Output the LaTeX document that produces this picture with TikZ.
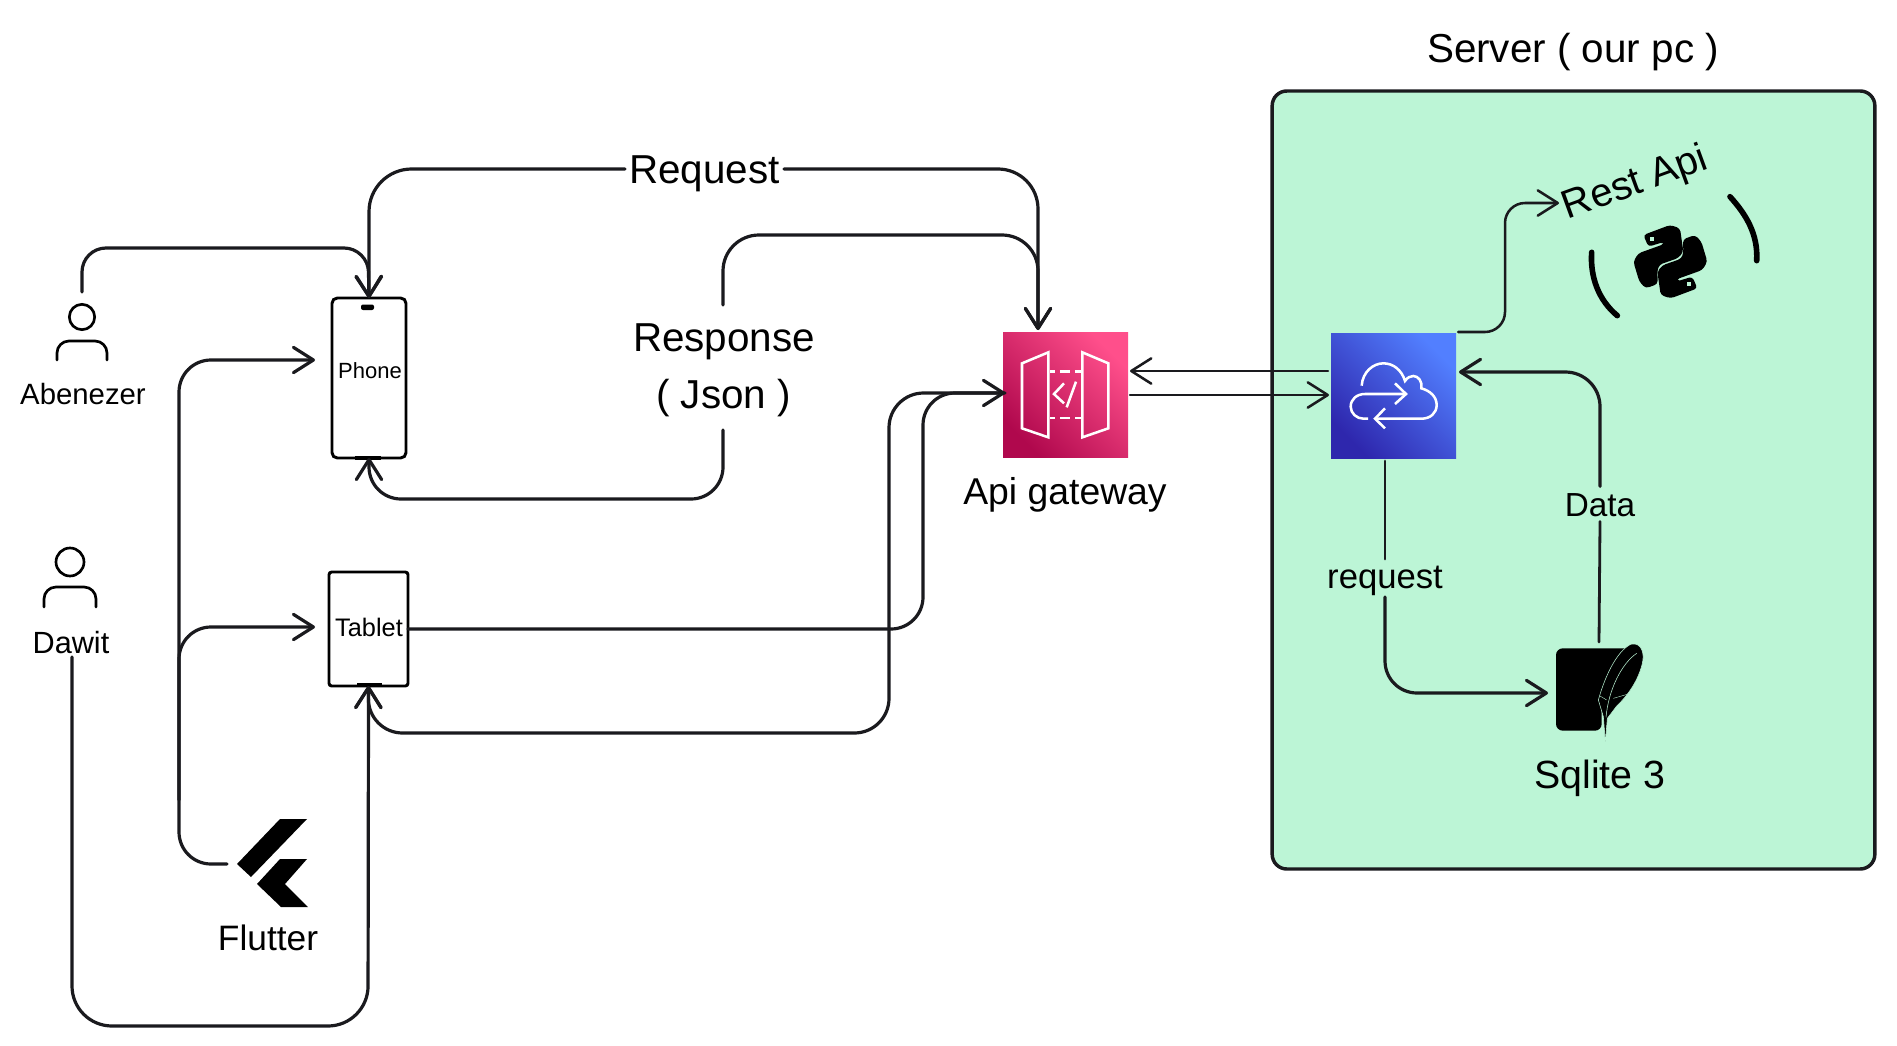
\documentclass[tikz,border=0pt]{standalone}
\usepackage{fontspec}
\setmainfont{Liberation Sans}
\usetikzlibrary{arrows.meta}
\definecolor{servergreen}{HTML}{BCF5D6}
\definecolor{ink}{HTML}{1A1A1E}
\definecolor{gwA}{HTML}{B0084D}
\definecolor{gwB}{HTML}{FF4F8B}
\definecolor{clA}{HTML}{2E27AD}
\definecolor{clB}{HTML}{527FFF}
\tikzset{
  barb/.tip={Straight Barb[length=15pt,width=19pt,round]},
  conn/.style={draw=ink,line width=2.4pt,line cap=round,line join=round,-barb},
  thinconn/.style={conn,line width=1.9pt},
  plain/.style={draw=ink,line width=2.1pt,line cap=round,line join=round},
  lab/.style={anchor=base,inner sep=0pt,text=black},
  device/.style={draw=black,line width=2.2pt,rounded corners=4pt,inner sep=0pt,outer sep=0pt,fill=white},
  awsbox/.style={inner sep=0pt,outer sep=0pt,minimum size=93.75pt},
  iconline/.style={draw=white,line width=1.9pt,line join=miter},
  person/.style={draw=black,line width=2pt,line cap=round},
  fs/.style={font=\fontsize{#1}{#1}\selectfont}
}
\begin{document}
\begin{tikzpicture}[x=0.75pt,y=-0.75pt]
\useasboundingbox (0,0) rectangle (1897,1045);
\fill[white] (0,0) rectangle (1897,1045);

% server panel
\node[draw=ink,line width=2.6pt,fill=servergreen,rounded corners=11pt,inner sep=0pt,outer sep=0pt,minimum width=452pt,minimum height=583.5pt] (server) at (1573.5,480) {};
\node[lab,fs=30.3] (servertitle) at (1573,63) {Server ( our pc )};

% people
\node[circle,draw=black,line width=2pt,minimum size=19pt,inner sep=0pt] (abeHead) at (82,317) {};
\draw[person,rounded corners=9pt] (57,360) -- (57,341) -- (107,341) -- (107,360);
\node[lab,fs=22] (abe) at (83,404) {Abenezer};
\coordinate (abeTop) at (82,292);
\node[circle,draw=black,line width=2pt,minimum size=21pt,inner sep=0pt] (dawHead) at (70,562) {};
\draw[person,rounded corners=9pt] (44,607) -- (44,587) -- (96,587) -- (96,607);
\node[lab,fs=23] (daw) at (71,653) {Dawit};
\coordinate (dawBottom) at (72,657);

% devices
\node[device,minimum width=55.5pt,minimum height=120pt] (phone) at (369,378) {};
\fill[black,rounded corners=1.5pt] (361,304.5) rectangle (374,310);
\fill[black] (355,456) rectangle (381,460);
\node[lab,fs=16.5] (phonetext) at (370,378) {Phone};
\node[device,rounded corners=2pt,minimum width=59.25pt,minimum height=85.5pt] (tablet) at (368.5,629) {};
\fill[black] (357,683) rectangle (382,687);
\node[lab,fs=19] (tablettext) at (369,636) {Tablet};

% flutter
\fill[black] (280,819) -- (307,819) -- (251,877) -- (237,864) -- cycle;
\fill[black] (280,859) -- (307,859) -- (285,884) -- (308,907) -- (281,907) -- (257,884) -- cycle;
\coordinate (flutterW) at (227,864);
\node[lab,fs=26.5] (flutter) at (268,950) {Flutter};

% API gateway
\node[awsbox,bottom color=gwA,top color=gwB,shading angle=-45] (gateway) at (1065.5,394.5) {};
\begin{scope}[shift={(960,300)},x=0.25pt,y=-0.25pt]
  \draw[iconline] (186,190) -- (265,157) -- (265,412) -- (186,385) -- cycle;
  \draw[iconline] (367,157) -- (445,190) -- (445,385) -- (367,412) -- cycle;
  \foreach \yy in {214,354}{
    \draw[iconline] (270,\yy) -- (285,\yy) (300,\yy) -- (330,\yy) (345,\yy) -- (362,\yy);
  }
  \draw[iconline] (312,250) -- (282,282) -- (312,310);
  \draw[iconline] (348,245) -- (320,322);
\end{scope}
\node[lab,fs=28] (gatewaytext) at (1065,504) {Api gateway};

% cloud service
\node[awsbox,bottom color=clA,top color=clB,shading angle=-45] (cloud) at (1393.5,395.5) {};
\begin{scope}[shift={(960,300)},x=0.25pt,y=-0.25pt]
  \draw[iconline] (1205,257) .. controls (1208,215) and (1240,190) .. (1270,190)
     .. controls (1300,190) and (1325,210) .. (1335,243)
     .. controls (1342,232) and (1352,228) .. (1360,228)
     .. controls (1375,228) and (1388,245) .. (1384,265)
     .. controls (1410,272) and (1430,290) .. (1430,315)
     .. controls (1430,340) and (1410,356) .. (1385,356) -- (1245,356);
  \draw[iconline] (1275,325) -- (1245,356) -- (1275,385);
  \draw[iconline] (1224,356) -- (1210,356) .. controls (1190,356) and (1172,340) .. (1172,320)
     .. controls (1172,298) and (1190,282) .. (1215,282) -- (1338,282);
  \draw[iconline] (1305,250) -- (1338,282) -- (1305,312);
\end{scope}

% python
\begin{scope}[shift={(1500,120)},x=0.25pt,y=-0.25pt]
  \foreach \ang in {0,180}{
    \begin{scope}[rotate around={\ang:(511,425)}]
      \fill[black,rounded corners=2.5pt] (430,345) -- (510,315) -- (540,325) -- (550,395) -- (535,414) -- (478,434) -- (472,452) -- (473,492) -- (437,505) -- (418,485) -- (400,425) -- (415,400) -- (493,372) -- (491,366) -- (445,380) -- cycle;
      \fill[servergreen] (449,352) rectangle (461,364);
    \end{scope}
  }
  \draw[black,line width=4.2pt,line cap=round] (275,397) .. controls (270,470) and (295,540) .. (352,587);
  \draw[black,line width=4.2pt,line cap=round] (690,230) .. controls (735,280) and (775,340) .. (770,422);
\end{scope}
\node[lab,fs=30,rotate=20] (restapi) at (1639,194) {Rest Api};
\coordinate (restW) at (1559,203);

% sqlite
\begin{scope}[shift={(1500,620)},x=0.25pt,y=-0.25pt]
  \fill[black,rounded corners=5pt] (168,85) -- (395,85) -- (305,240) -- (305,332) -- (168,332) -- cycle;
  \fill[black,draw=servergreen,line width=0.4pt] (316,365) -- (310,290) -- (295,240)
     .. controls (320,150) and (360,85) .. (395,72)
     .. controls (425,68) and (434,100) .. (427,130)
     .. controls (415,180) and (385,225) .. (350,258)
     -- (322,295) -- cycle;
  \draw[servergreen,line width=0.4pt] (318,292) .. controls (325,210) and (365,130) .. (410,100);
  \draw[servergreen,line width=0.3pt] (300,228) -- (320,240) (340,235) -- (385,222);
\end{scope}
\node[lab,fs=29.5] (sqlite) at (1600,788) {Sqlite 3};
\coordinate (sqliteW) at (1548,693);
\coordinate (sqliteN) at (1599,642);

% connector ends
\coordinate (gwTop) at (1038,330);
\coordinate (gwW) at (1005,393);
\coordinate (gwE1) at (1130,371);
\coordinate (gwE2) at (1130,395);
\coordinate (clW1) at (1328,371);
\coordinate (clW2) at (1329,395);
\coordinate (clE1) at (1458,332);
\coordinate (clE2) at (1459,372);
\coordinate (clS) at (1385,461);

% labels that interrupt connectors
\node[fill=white,inner sep=3pt,fs=30.3,text height=24.5pt,text depth=3.5pt] (request) at (704.5,169) {Request};
\node[lab,fs=30.3] (response) at (724,351) {Response};
\node[lab,fs=30.3] (json) at (723.5,408) {( Json )};
\coordinate (respTop) at (723,305);
\coordinate (respBot) at (723,430);
\node[fill=servergreen,inner sep=2pt,fs=26,text height=20pt,text depth=4pt] (reqlabel) at (1385,578) {request};
\node[fill=servergreen,inner sep=2pt,fs=25,text height=20pt,text depth=2pt] (data) at (1600,504) {Data};

% connectors
\draw[conn,rounded corners=18pt] (abeTop) -- (82,248) -- (368,248) -- (phone.north);
\draw[conn,rounded corners=32pt] (request.west) -- (369,169) -- (phone.north);
\draw[conn,rounded corners=30pt] (request.east) -- (1038,169) -- (gwTop);
\draw[conn,rounded corners=27pt] (respTop) -- (723,235) -- (1038,235) -- (gwTop);
\draw[conn,rounded corners=24pt] (respBot) -- (723,499) -- (369,499) -- (phone.south);
\draw[conn,rounded corners=24pt] (flutterW) -- (179,864) -- (179,360) -- (315,360);
\draw[conn,rounded corners=24pt] (179,800) -- (179,627) -- (315,627);
\draw[conn,rounded corners=30pt] (dawBottom) -- (72,1026) -- (368,1026) -- (tablet.south);
\draw[conn,rounded corners=24pt] (tablet.east) -- (923,629) -- (923,393) -- (gwW);
\draw[conn,rounded corners=26pt] (gwW) -- (889,393) -- (889,733) -- (368,733) -- (tablet.south);
\draw[thinconn] (clW1) -- (gwE1);
\draw[thinconn] (gwE2) -- (clW2);
\draw[thinconn,rounded corners=15pt] (clE1) -- (1505,332) -- (1505,203) -- (restW);
\draw[conn,rounded corners=26pt] (data.north) -- (1600,372) -- (clE2);
\draw[plain] (sqliteN) -- (data.south);
\draw[plain] (clS) -- (reqlabel.north);
\draw[conn,rounded corners=24pt] (reqlabel.south) -- (1385,693) -- (sqliteW);
\end{tikzpicture}
\end{document}
